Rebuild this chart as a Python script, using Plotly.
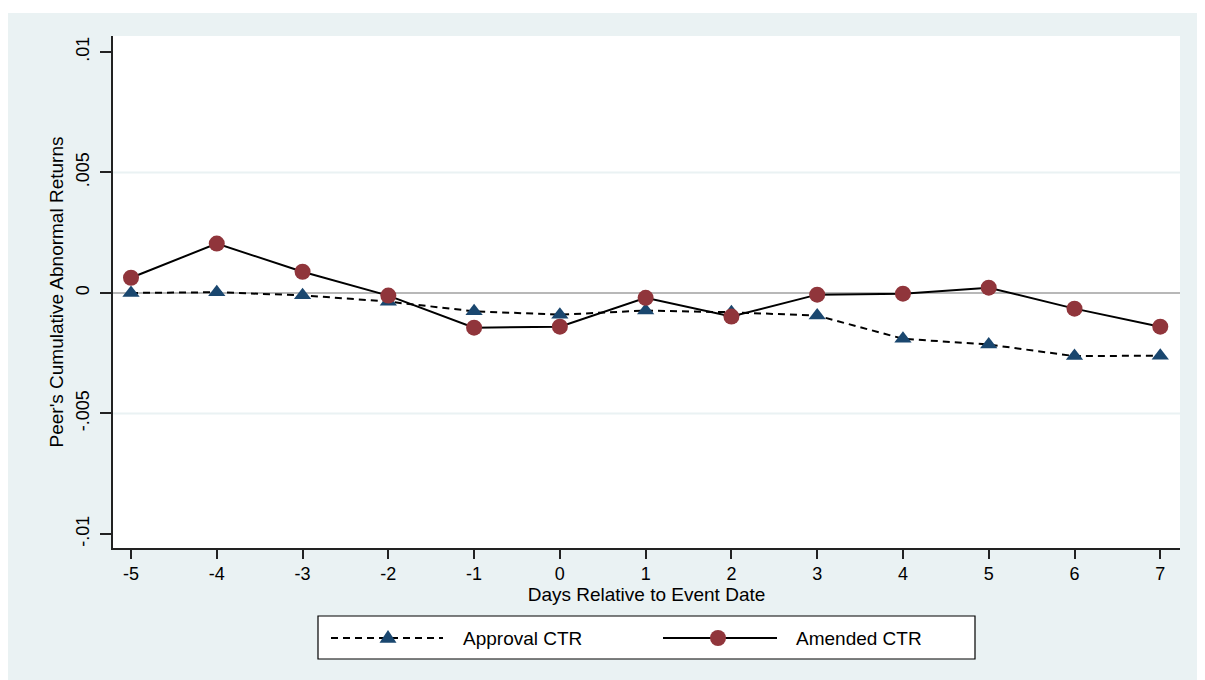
import plotly.graph_objects as go

days = [-5, -4, -3, -2, -1, 0, 1, 2, 3, 4, 5, 6, 7]
approval_ctr = [0.0, 0.00003, -0.0001, -0.00036, -0.00076, -0.0009, -0.00073, -0.0008,
                -0.00094, -0.0019, -0.00214, -0.00262, -0.0026]
amended_ctr = [0.00063, 0.00205, 0.00088, -0.00011, -0.00144, -0.0014, -0.0002, -0.00098,
               -0.00007, -0.00003, 0.00022, -0.00065, -0.0014]
y_ticks = [-0.01, -0.005, 0, 0.005, 0.01]
y_tick_labels = ["-.01", "-.005", "0", ".005", ".01"]
grid_values = [-0.005, 0.005]
series_names = ["Approval CTR", "Amended CTR"]

OFF = 8  # page body margin
W, H = 1205, 680
# plot area in figure coordinates
L, R, T, B = 113 - OFF, 1180 - OFF, 36 - OFF, 548 - OFF
FONT = "Liberation Sans, Arial, sans-serif"
NAVY = "#1A476F"
MAROON = "#90353B"
BG = "#EAF2F3"


def px(x):  # screen x -> paper
    return (x - OFF - L) / (R - L)


def py(y):  # screen y -> paper
    return (B - (y - OFF)) / (B - T)


fig = go.Figure()
fig.add_trace(go.Scatter(
    x=days, y=approval_ctr, mode="lines+markers", name=series_names[0],
    line=dict(color="black", width=2, dash="7px,5px"),
    marker=dict(symbol="triangle-up", size=15, color=NAVY, line=dict(width=0)),
    showlegend=False,
))
fig.add_trace(go.Scatter(
    x=days, y=amended_ctr, mode="lines+markers", name=series_names[1],
    line=dict(color="black", width=2),
    marker=dict(symbol="circle", size=16, color=MAROON, line=dict(width=0)),
    showlegend=False,
))

shapes = [
    # thin white band at the top of the page
    dict(type="rect", xref="paper", yref="paper", x0=px(0), x1=px(1300), y0=py(13), y1=py(-10),
         fillcolor="white", line=dict(width=0), layer="below"),
]
for g in grid_values:
    shapes.append(dict(type="line", xref="paper", yref="y", x0=0, x1=1, y0=g, y1=g,
                       line=dict(color=BG, width=2), layer="below"))

ly = 638
shapes.append(dict(type="rect", xref="paper", yref="paper", x0=px(318), x1=px(975),
                   y0=py(659), y1=py(616), fillcolor="white", line=dict(color="black", width=1.2)))
shapes.append(dict(type="line", xref="paper", yref="paper", x0=px(331), x1=px(443),
                   y0=py(ly), y1=py(ly), line=dict(color="black", width=2, dash="7px,5px")))
tx, ty, r = 388, ly, 8.5
shapes.append(dict(type="path", xref="paper", yref="paper",
                   path=f"M {px(tx - r)},{py(ty + r * 0.55)} L {px(tx + r)},{py(ty + r * 0.55)} L {px(tx)},{py(ty - r * 0.95)} Z",
                   fillcolor=NAVY, line=dict(width=0)))
shapes.append(dict(type="line", xref="paper", yref="paper", x0=px(663), x1=px(777),
                   y0=py(ly), y1=py(ly), line=dict(color="black", width=2)))
cx, cr = 718, 8
shapes.append(dict(type="circle", xref="paper", yref="paper", x0=px(cx - cr), x1=px(cx + cr),
                   y0=py(ly + cr), y1=py(ly - cr), fillcolor=MAROON, line=dict(width=0)))

annotations = [
    dict(text=series_names[0], xref="paper", yref="paper", x=px(461), y=py(ly), xanchor="left",
         yanchor="middle", showarrow=False, font=dict(family=FONT, size=19, color="black")),
    dict(text=series_names[1], xref="paper", yref="paper", x=px(794), y=py(ly), xanchor="left",
         yanchor="middle", showarrow=False, font=dict(family=FONT, size=19, color="black")),
]

fig.update_layout(
    width=W, height=H,
    margin=dict(l=L, r=W - R, t=T, b=H - B, pad=0),
    paper_bgcolor=BG, plot_bgcolor="white",
    font=dict(family=FONT, size=18, color="black"),
    shapes=shapes, annotations=annotations,
    showlegend=False,
)
fig.update_xaxes(
    range=[-5.21, 7.23], tickvals=days, ticktext=[str(d) for d in days],
    showgrid=False, zeroline=False, showline=True, linecolor="#222", linewidth=1.5,
    ticks="outside", ticklen=9, tickwidth=1.5, tickcolor="#222",
    tickfont=dict(size=18, color="black"),
    title=dict(text="Days Relative to Event Date", font=dict(size=19, color="black"), standoff=2),
)
fig.update_yaxes(
    range=[-0.01058, 0.01066], tickvals=y_ticks, ticktext=y_tick_labels, tickangle=-90,
    showgrid=False, zeroline=True, zerolinecolor="#B8B8B8", zerolinewidth=1.5,
    showline=True, linecolor="#222", linewidth=1.5,
    ticks="outside", ticklen=11, tickwidth=1.5, tickcolor="#222",
    tickfont=dict(size=18, color="black"), ticklabelstandoff=4,
    title=dict(text="Peer's Cumulative Abnormal Returns", font=dict(size=19, color="black"), standoff=4),
)

fig.write_html("out.html")
